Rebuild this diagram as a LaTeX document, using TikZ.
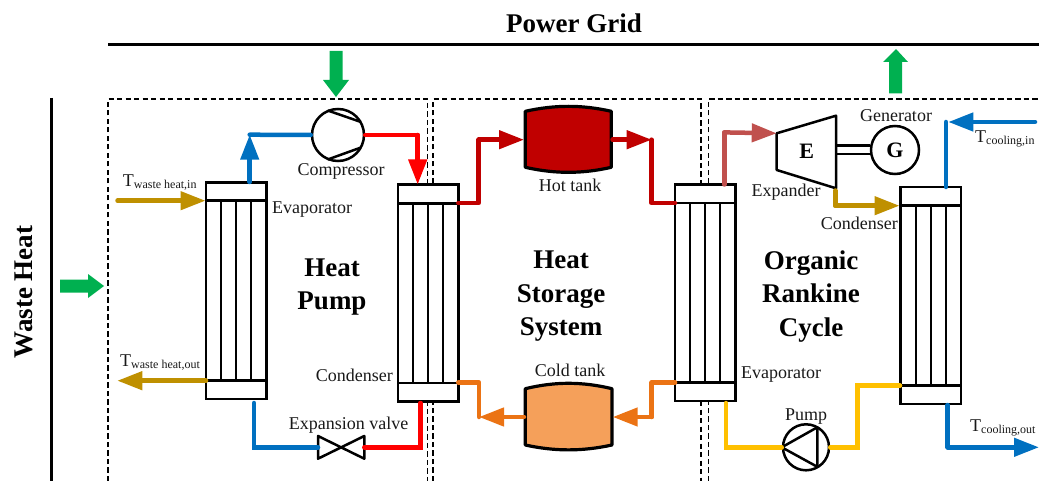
\documentclass[tikz,border=0pt]{standalone}
\usepackage{fontspec}
\setmainfont{Liberation Serif}
\usetikzlibrary{arrows.meta,calc}
\definecolor{cgreen}{HTML}{00B050}
\definecolor{cblue}{HTML}{0070C0}
\definecolor{cred}{HTML}{FF0000}
\definecolor{cgold}{HTML}{BF9000}
\definecolor{cdark}{HTML}{C00000}
\definecolor{corange}{HTML}{EB7314}
\definecolor{ctank}{HTML}{F5A05A}
\definecolor{csalmon}{HTML}{C0504D}
\definecolor{cyellow}{HTML}{FFC000}
\newcommand{\lblfont}{\fontsize{18}{20}\selectfont}
\newcommand{\headfont}{\fontsize{27}{30}\selectfont\bfseries}
\newcommand{\tsub}[1]{{\fontsize{18}{20}\selectfont T}\lower2pt\hbox{\fontsize{12}{12}\selectfont #1}}
\tikzset{
  x=1pt,y=-1pt,
  txt/.style={inner sep=0pt,anchor=base,font=\lblfont,text=black!90},
  head/.style={inner sep=0pt,anchor=center,font=\headfont,align=center,text=black},
  hxbox/.style={draw=black,line width=2.5pt,inner sep=0pt,outer sep=0pt,fill=white},
  hxline/.style={line width=2.5pt,draw=black},
  pipe/.style={line width=4.5pt,line cap=round,line join=round},
  tip/.style={-{Triangle[length=25pt,width=18pt]}},
  bigarrow/.style={draw=none,fill=cgreen},
  zone/.style={line width=1.3pt,dash pattern=on 5.3pt off 3.2pt,draw=black},
  machine/.style={circle,draw=black,line width=2.5pt,fill=white,inner sep=0pt,minimum size=#1},
  tankbody/.style={draw=black,line width=3.2pt,line join=round}
}
\newcommand{\hx}[6]{% name, left, top, right, headerline top, headerline bottom
  \path[hxbox] (#2,#3) rectangle (#4,{#6+18.3});
  \node[inner sep=0pt,minimum size=0pt] (#1) at ({(#2+#4)/2},{(#3+#6+18.3)/2}) {};
  \draw[hxline] (#2,#5) -- (#4,#5);
  \draw[hxline] (#2,#6) -- (#4,#6);
  \draw[hxline] ({#2+15.2},#5) -- ({#2+15.2},#6);
  \draw[hxline] ({#2+30.2},#5) -- ({#2+30.2},#6);
  \draw[hxline] ({#2+45.2},#5) -- ({#2+45.2},#6);
}
\begin{document}
\begin{tikzpicture}
\useasboundingbox (0,0) rectangle (1039,481);
% boundaries
\draw[line width=3pt] (108,45) coordinate (gridL) -- (1039,45) coordinate (gridR);
\draw[line width=3pt] (51,98) coordinate (wasteT) -- (51,481) coordinate (wasteB);
\draw[zone] (108,481) -- (108,99) -- (427.7,99) -- (427.7,481);
\draw[zone] (433,481) -- (433,99) -- (701,99) -- (701,481);
\draw[zone] (708.7,481) -- (708.7,99) -- (1039,99);
% titles
\node[inner sep=0pt,anchor=center,font=\fontsize{27}{30}\selectfont\bfseries] (tgrid) at (574,23) {Power Grid};
\node[head,rotate=90] (twaste) at (24,292) {Waste Heat};
\node[head] (thp) at (332,287) {Heat\\[3pt]Pump};
\node[head] (ths) at (561,296.5) {Heat\\[3.5pt]Storage\\[3.5pt]System};
\node[head] (torc) at (811,296.5) {Organic\\[3.5pt]Rankine\\[3.5pt]Cycle};
% green arrows
\path[bigarrow] (329.5,51) -- (342.5,51) -- (342.5,80) -- (349,80) -- (336,97) -- (323,80) -- (329.5,80) -- cycle;
\path[bigarrow] (889,93.5) -- (902,93.5) -- (902,62) -- (908,62) -- (896,49) -- (883,62) -- (889,62) -- cycle;
\path[bigarrow] (60,279.5) -- (88,279.5) -- (88,274) -- (104,286) -- (88,298) -- (88,292.5) -- (60,292.5) -- cycle;
% heat exchangers
\hx{hxa}{206}{182.3}{266.5}{200.3}{380.7}
\hx{hxb}{397.8}{184.7}{458.3}{203.3}{383.2}
\hx{hxc}{675}{184.7}{735.3}{202.8}{382.5}
\hx{hxd}{900.7}{187}{961}{205.3}{385.5}
% machines
\node[machine=52pt] (cmp) at (338,135) {};
\draw[line width=2.5pt] (327.7,110.5) -- (361,122);
\draw[line width=2.5pt] (327.7,159.5) -- (361,147.5);
\node[machine=46pt] (pmp) at (806,447.3) {};
\draw[line width=2.5pt,line join=round] (pmp.west) -- (817.3,427.3) -- (817.3,466.8) -- cycle;
\node[machine=48pt,font=\fontsize{22}{24}\selectfont\bfseries] (gen) at (895,150) {G};
\path[draw=black,line width=2.5pt,line join=round,fill=white] (776.7,133.3) coordinate (expin) -- (836,115.7) -- (836,188.3) coordinate (expout) -- (776.7,170) -- cycle;
\node[inner sep=0pt,font=\fontsize{22}{24}\selectfont\bfseries] (expE) at (806.7,151) {E};
\draw[line width=2.5pt] (836,145.5) -- ($(gen.west)+(0,-4.5)$);
\draw[line width=2.5pt] (836,154) -- ($(gen.west)+(0,4)$);
\path[draw=black,line width=2.5pt,line join=round] (318,436) coordinate (vl1) -- (364.3,458.7) -- (364.3,436) -- (318,458.7) -- cycle;
\coordinate (valveW) at (318,447.3);
\coordinate (valveE) at (364.3,447.3);
% tanks
\path[tankbody,fill=cdark] (525.3,111.3) .. controls (555,104.7) and (582,104.7) .. (611.3,111.3) -- (611.3,167.3) .. controls (582,174) and (555,174) .. (525.3,167.3) -- cycle;
\coordinate (hotW) at (524,139.7);
\coordinate (hotE) at (612.5,139.7);
\path[tankbody,fill=ctank] (525.3,388.7) .. controls (555,381.5) and (582,381.5) .. (612,388.7) -- (612,445) .. controls (582,451.5) and (555,451.5) .. (525.3,445) -- cycle;
\coordinate (coldW) at (524,417);
\coordinate (coldE) at (612.7,417);
% heat pump pipes
\coordinate (c1) at (249.7,134.7);
\draw[pipe,cblue,tip] (249.7,182) coordinate (a1) -- (c1);
\draw[pipe,cblue] (c1) -- (cmp.west);
\coordinate (c2) at (417.7,135);
\draw[pipe,cred] (cmp.east) -- (c2);
\draw[pipe,cred,tip] (c2) -- (417.7,184.5) coordinate (a2);
\draw[pipe,cblue,line join=miter] (254,403) coordinate (a3) |- (valveW);
\draw[pipe,cred,line join=miter] (valveE) -| (420.5,403) coordinate (a4);
\draw[pipe,cgold,tip] (117.5,200.7) coordinate (gi) -- (205.5,200.7) coordinate (ge);
\draw[pipe,cgold,tip] (206,380.7) coordinate (go) -- (117.3,380.7) coordinate (gf);
% storage pipes
\coordinate (h1) at (478.7,139.7);
\draw[pipe,cdark] (458.3,203) coordinate (h0) -| (h1);
\draw[pipe,cdark,tip] (h1) -- (hotW);
\coordinate (h2) at (651.7,139.7);
\draw[pipe,cdark,tip] (hotE) -- (h2);
\draw[pipe,cdark] (h2) |- (675,203) coordinate (h3);
\coordinate (k1) at (651.7,417);
\draw[pipe,corange] (675,382.5) coordinate (k0) -| (k1);
\draw[pipe,corange,tip] (k1) -- (coldE);
\coordinate (k2) at (479,417);
\draw[pipe,corange,tip] (coldW) -- (k2);
\draw[pipe,corange] (k2) |- (458.3,382.5) coordinate (k3);
% ORC pipes
\coordinate (r1) at (724.3,132.4);
\draw[pipe,csalmon] (724.3,184.5) coordinate (r0) -- (r1);
\draw[pipe,csalmon,tip] (r1) -- (expin);
\coordinate (r2) at (835.3,205.7);
\draw[pipe,cgold] (835.3,190.5) coordinate (r3) -- (r2);
\draw[pipe,cgold,tip] (r2) -- (899.5,205.7) coordinate (r4);
\draw[pipe,cyellow,line join=miter] (726,403) coordinate (y0) |- (pmp.west);
\draw[pipe,cyellow,line join=miter] (pmp.east) -| (857.5,385.7) coordinate (y1) -- (900,385.7) coordinate (y2);
\coordinate (b1) at (946,122);
\draw[pipe,cblue] (946,187) coordinate (b0) -- (b1);
\draw[pipe,cblue,tip] (1035,122) coordinate (b2) -- (948.3,122) coordinate (b3);
\coordinate (b4) at (947.7,447.3);
\draw[pipe,cblue] (947.7,405) coordinate (b5) -- (b4);
\draw[pipe,cblue,tip] (b4) -- (1039,447.3) coordinate (b6);
% labels
\node[txt] (lcmp) at (341,176) {Compressor};
\node[txt,anchor=base west] (levap) at (272,214) {Evaporator};
\node[txt,anchor=base west] (lti) at (122.7,187) {\tsub{waste heat,in}};
\node[txt,anchor=base west] (lto) at (120,366.7) {\tsub{waste heat,out}};
\node[txt,anchor=base east] (lcond) at (393,381) {Condenser};
\node[txt] (lexv) at (348.5,429) {Expansion valve};
\node[txt] (lhot) at (570,192) {Hot tank};
\node[txt] (lcold) at (570,376.5) {Cold tank};
\node[txt,anchor=base west] (levap2) at (741,378) {Evaporator};
\node[txt] (lgen) at (896,122) {Generator};
\node[txt] (lexp) at (786,197) {Expander};
\node[txt,anchor=base east] (lcond2) at (898,230) {Condenser};
\node[txt] (lpump) at (806,420) {Pump};
\node[txt,anchor=base west] (ltci) at (975,143) {\tsub{cooling,in}};
\node[txt,anchor=base west] (ltco) at (970,431.5) {\tsub{cooling,out}};
\end{tikzpicture}
\end{document}
